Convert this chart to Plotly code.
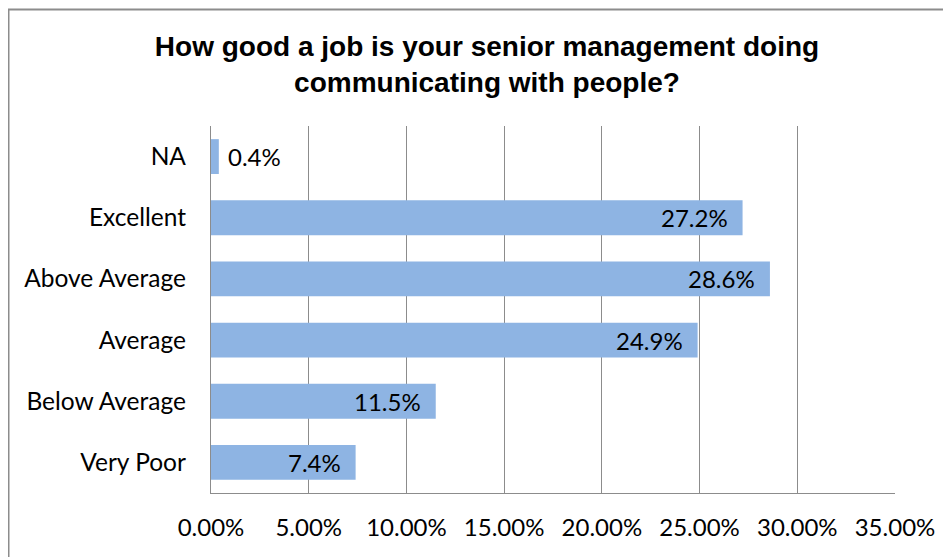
import plotly.graph_objects as go

categories = ["Very Poor", "Below Average", "Average", "Above Average", "Excellent", "NA"]
values = [0.074, 0.115, 0.249, 0.286, 0.272, 0.004]
labels = ["7.4%", "11.5%", "24.9%", "28.6%", "27.2%", "0.4%"]
x_ticks = [0, 0.05, 0.10, 0.15, 0.20, 0.25, 0.30, 0.35]

# page body has an 8px default margin; size the figure to fill the rest
OFF = 8
W, H = 951 - OFF, 557 - OFF
L, R, T, B = 211 - OFF, 56, 126 - OFF, 64
pw, ph = W - L - R, H - T - B

bar_color = "#8EB4E3"
grid_color = "#8C8C8C"
font_main = "Lato, 'Liberation Sans', sans-serif"

fig = go.Figure()
fig.add_trace(go.Bar(
    y=categories, x=values, orientation="h",
    marker=dict(color=bar_color, line=dict(width=0)),
    width=0.57, hoverinfo="skip",
))

annotations = []
for c, v, t in zip(categories, values, labels):
    inside = v > 0.05
    annotations.append(dict(
        x=v, y=c, xref="x", yref="y", text=t, showarrow=False,
        xanchor="right" if inside else "left",
        xshift=-13 if inside else 7,
        font=dict(family=font_main, size=24, color="#000000"),
    ))

shapes = [dict(
    type="rect", xref="paper", yref="paper",
    x0=(0.5 - L) / pw, x1=(W + 20 - L) / pw,
    y0=-(B + 20) / ph, y1=(H - B - 1.5) / ph,
    line=dict(color="#8C8C8C", width=2), fillcolor="rgba(0,0,0,0)", layer="below",
)]

fig.update_layout(
    width=W, height=H,
    margin=dict(l=L, r=R, t=T, b=B, autoexpand=False),
    paper_bgcolor="white", plot_bgcolor="white",
    showlegend=False,
    title=dict(
        text="How good a job is your senior management doing<br>communicating with people?",
        x=(487 - OFF) / W, xanchor="center", y=1 - (56 - OFF) / H, yanchor="middle",
        yref="container", xref="container",
        font=dict(family="'Liberation Sans', Arial, sans-serif", size=28, color="#000000", weight="bold"),
    ),
    xaxis=dict(
        range=[0, 0.35], tickvals=x_ticks, tickformat=".2%",
        showgrid=True, gridcolor=grid_color, gridwidth=1.3,
        showline=True, linecolor=grid_color, linewidth=1.3,
        zeroline=False, ticks="", ticklabelstandoff=13,
        tickfont=dict(family=font_main, size=24, color="#000000"),
        fixedrange=True,
    ),
    yaxis=dict(
        categoryorder="array", categoryarray=categories,
        showgrid=False, showline=True, linecolor=grid_color, linewidth=1.3,
        ticks="", ticklabelstandoff=19,
        tickfont=dict(family=font_main, size=24.5, color="#000000"),
        fixedrange=True,
    ),
    bargap=0.43,
    annotations=annotations,
    shapes=shapes,
)

fig.write_html("out.html")
